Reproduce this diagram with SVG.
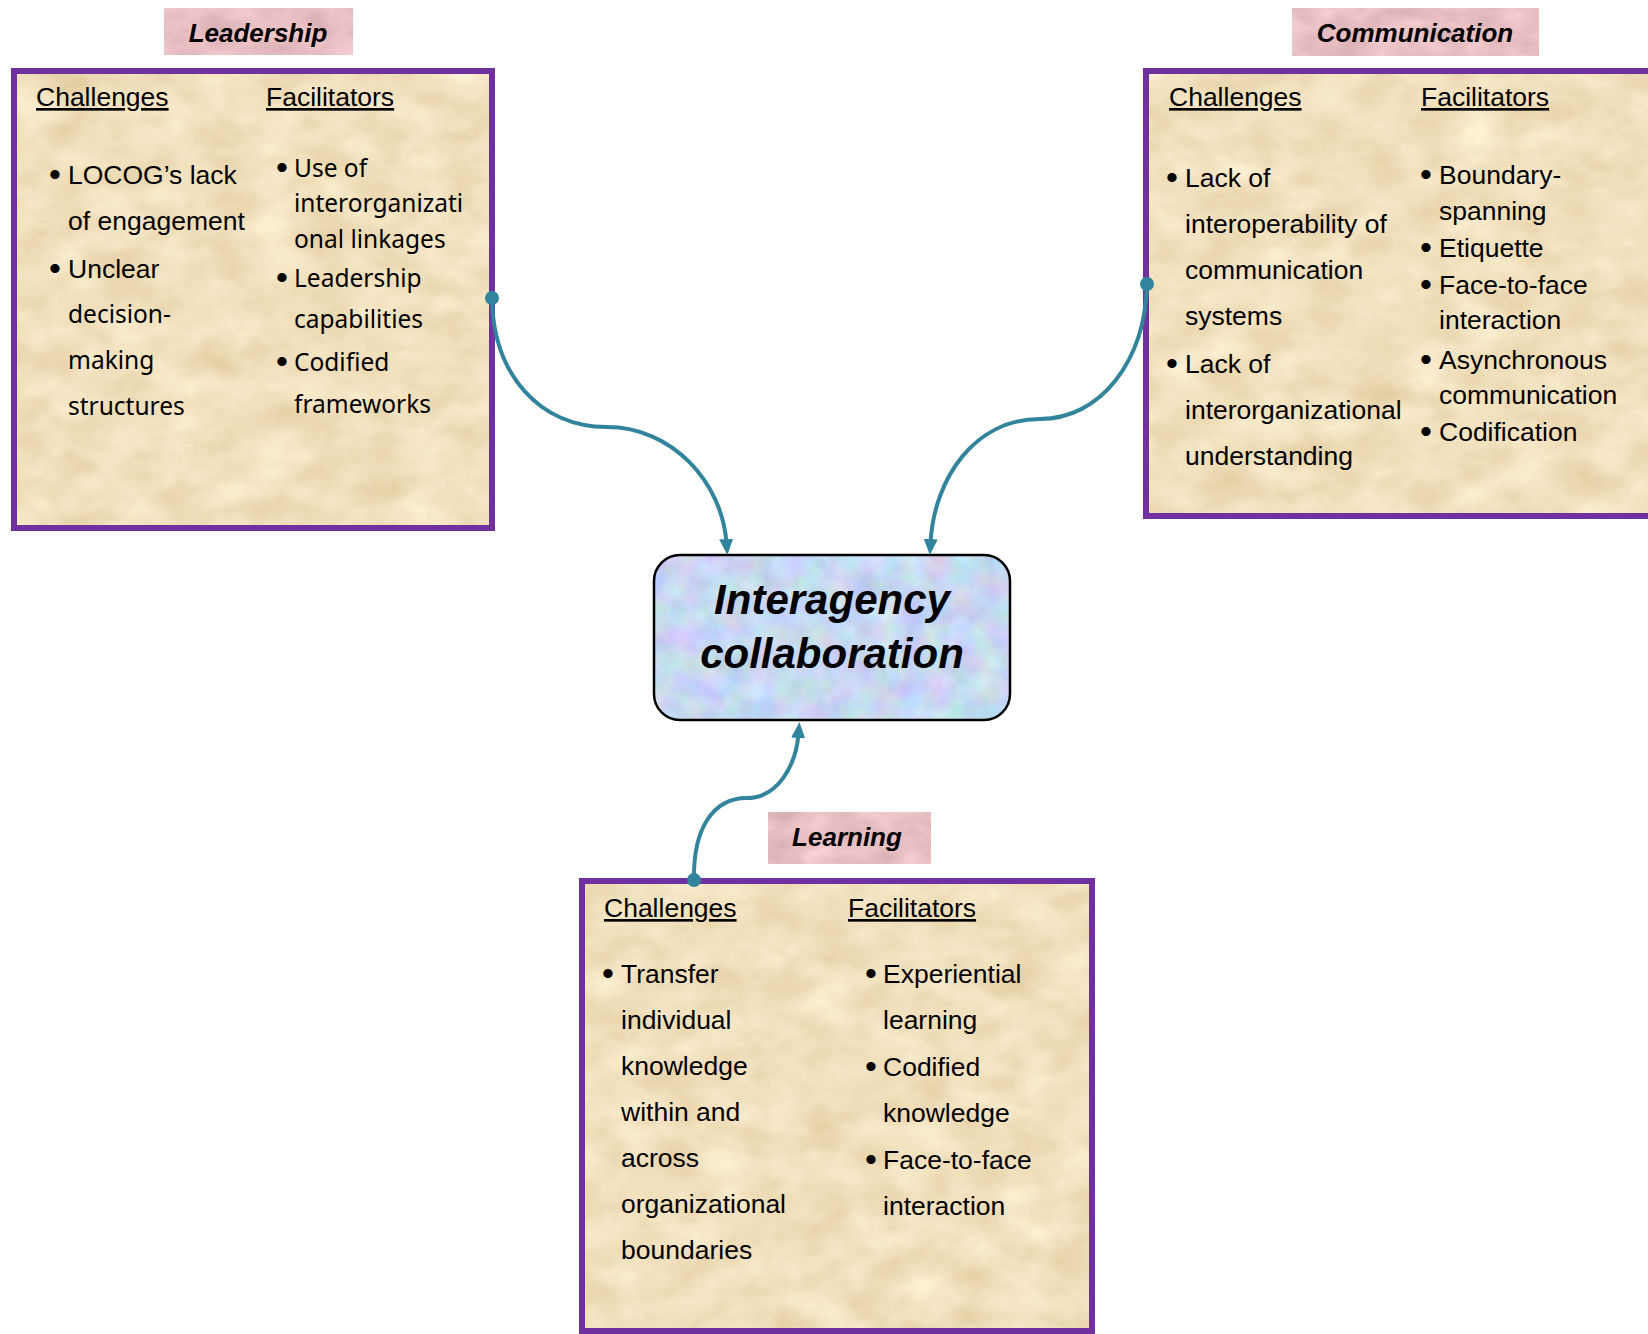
<svg xmlns="http://www.w3.org/2000/svg" width="1648" height="1334" viewBox="0 0 1648 1334">
<defs>
<style>
text { fill: #000; }
.h { font-family: "Liberation Sans", Arial, sans-serif; font-size: 26.5px; text-decoration: underline; }
.t { font-family: "Liberation Sans", Arial, sans-serif; font-size: 26.5px; }
.b { font-family: "Liberation Sans", Arial, sans-serif; font-size: 34px; }
.s { font-family: "Noto Sans", "Open Sans", sans-serif; font-size: 24.5px; }
.lab { font-family: "Liberation Sans", Arial, sans-serif; font-size: 26px; font-weight: bold; font-style: italic; text-anchor: middle; }
.title { font-family: "Liberation Sans", Arial, sans-serif; font-size: 42px; font-weight: bold; font-style: italic; text-anchor: middle; }
.paper { fill: #F1E0BD; filter: url(#tex); }
.pink { fill: #E8C0C3; filter: url(#tex2); }
.frame { fill: none; stroke: #7030A0; stroke-width: 6; }
.conn { fill: none; stroke: #31849B; stroke-width: 4; marker-end: url(#arrow); }
.dot { fill: #31849B; }
</style>
<filter id="tex" x="0" y="0" width="1" height="1" color-interpolation-filters="sRGB">
  <feTurbulence type="fractalNoise" baseFrequency="0.02 0.032" numOctaves="5" seed="7" result="n"/>
  <feColorMatrix in="n" type="matrix" values="0.22 0.22 0.22 0 0.17  0.3 0.3 0.3 0 0.05  0.42 0.42 0.42 0 -0.13  0 0 0 0 1" result="g"/>
  <feComposite in="SourceGraphic" in2="g" operator="arithmetic" k1="0" k2="1" k3="0.3" k4="-0.15" result="m"/>
  <feComposite in="m" in2="SourceGraphic" operator="in"/>
</filter>
<filter id="tex2" x="0" y="0" width="1" height="1" color-interpolation-filters="sRGB">
  <feTurbulence type="fractalNoise" baseFrequency="0.03 0.05" numOctaves="3" seed="11" result="n"/>
  <feColorMatrix in="n" type="matrix" values="0.33 0.33 0.33 0 0  0.33 0.33 0.33 0 0  0.33 0.33 0.33 0 0  0 0 0 0 1" result="g"/>
  <feComposite in="SourceGraphic" in2="g" operator="arithmetic" k1="0" k2="1" k3="0.3" k4="-0.15" result="m"/>
  <feComposite in="m" in2="SourceGraphic" operator="in"/>
</filter>
<filter id="tex3" x="0" y="0" width="1" height="1" color-interpolation-filters="sRGB">
  <feTurbulence type="fractalNoise" baseFrequency="0.04" numOctaves="3" seed="4" result="n"/>
  <feColorMatrix in="n" type="matrix" values="1 0 0 0 0  0 1 0 0 0  0 0 1 0 0  0 0 0 0 1" result="g"/>
  <feComposite in="SourceGraphic" in2="g" operator="arithmetic" k1="0" k2="1" k3="0.22" k4="-0.11" result="m"/>
  <feComposite in="m" in2="SourceGraphic" operator="in"/>
</filter>
<marker id="arrow" viewBox="0 0 16 16" refX="4" refY="8" markerWidth="16" markerHeight="16" markerUnits="userSpaceOnUse" orient="auto">
  <path d="M0,1 L16,8 L0,15 Z" fill="#31849B"/>
</marker>
</defs>

<rect width="1648" height="1334" fill="#FFFFFF"/>

<g id="leadership">
  <rect class="pink" x="164" y="8" width="189" height="47"/>
  <text class="lab" x="258" y="42">Leadership</text>
  <rect class="paper" x="14" y="71" width="478" height="457"/>
  <rect class="frame" x="14" y="71" width="478" height="457"/>
  <text class="h" x="36" y="106">Challenges</text>
  <text class="h" x="266" y="106">Facilitators</text>
  <text class="b" x="49" y="186">•</text>
  <text class="t" x="68" y="184">LOCOG’s lack</text>
  <text class="t" x="68" y="230">of engagement</text>
  <text class="b" x="49" y="280">•</text>
  <text class="t" x="68" y="278">Unclear</text>
  <text class="s" x="68" y="323">decision-</text>
  <text class="s" x="68" y="369">making</text>
  <text class="s" x="68" y="415">structures</text>
  <text class="b" x="276" y="179">•</text>
  <text class="s" x="294" y="177">Use of</text>
  <text class="s" x="294" y="212">interorganizati</text>
  <text class="s" x="294" y="248">onal linkages</text>
  <text class="b" x="276" y="289">•</text>
  <text class="s" x="294" y="287">Leadership</text>
  <text class="s" x="294" y="328">capabilities</text>
  <text class="b" x="276" y="373">•</text>
  <text class="s" x="294" y="371">Codified</text>
  <text class="s" x="294" y="413">frameworks</text>
</g>

<g id="communication">
  <rect class="pink" x="1292" y="8" width="247" height="48"/>
  <text class="lab" x="1415" y="42">Communication</text>
  <rect class="paper" x="1146" y="71" width="520" height="445"/>
  <rect class="frame" x="1146" y="71" width="520" height="445"/>
  <text class="h" x="1169" y="106">Challenges</text>
  <text class="h" x="1421" y="106">Facilitators</text>
  <text class="b" x="1166" y="189">•</text>
  <text class="t" x="1185" y="187">Lack of</text>
  <text class="t" x="1185" y="233">interoperability of</text>
  <text class="t" x="1185" y="279">communication</text>
  <text class="t" x="1185" y="325">systems</text>
  <text class="b" x="1166" y="375">•</text>
  <text class="t" x="1185" y="373">Lack of</text>
  <text class="t" x="1185" y="419">interorganizational</text>
  <text class="t" x="1185" y="465">understanding</text>
  <text class="b" x="1420" y="186">•</text>
  <text class="t" x="1439" y="184">Boundary-</text>
  <text class="t" x="1439" y="220">spanning</text>
  <text class="b" x="1420" y="259">•</text>
  <text class="t" x="1439" y="257">Etiquette</text>
  <text class="b" x="1420" y="296">•</text>
  <text class="t" x="1439" y="294">Face-to-face</text>
  <text class="t" x="1439" y="329">interaction</text>
  <text class="b" x="1420" y="371">•</text>
  <text class="t" x="1439" y="369">Asynchronous</text>
  <text class="t" x="1439" y="404">communication</text>
  <text class="b" x="1420" y="443">•</text>
  <text class="t" x="1439" y="441">Codification</text>
</g>

<g id="interagency-collaboration">
  <rect x="654" y="555" width="356" height="165" rx="26" ry="26" fill="#C7D8F2" filter="url(#tex3)"/>
  <rect x="654" y="555" width="356" height="165" rx="26" ry="26" fill="none" stroke="#000" stroke-width="2.5"/>
  <text class="title" x="832" y="614">Interagency</text>
  <text class="title" x="832" y="668">collaboration</text>
</g>

<g id="learning">
  <rect class="pink" x="768" y="812" width="163" height="52"/>
  <text class="lab" x="847" y="846">Learning</text>
  <rect class="paper" x="582" y="881" width="510" height="450"/>
  <rect class="frame" x="582" y="881" width="510" height="450"/>
  <text class="h" x="604" y="917">Challenges</text>
  <text class="h" x="848" y="917">Facilitators</text>
  <text class="b" x="602" y="985">•</text>
  <text class="t" x="621" y="983">Transfer</text>
  <text class="t" x="621" y="1029">individual</text>
  <text class="t" x="621" y="1075">knowledge</text>
  <text class="t" x="621" y="1121">within and</text>
  <text class="t" x="621" y="1167">across</text>
  <text class="t" x="621" y="1213">organizational</text>
  <text class="t" x="621" y="1259">boundaries</text>
  <text class="b" x="865" y="985">•</text>
  <text class="t" x="883" y="983">Experiential</text>
  <text class="t" x="883" y="1029">learning</text>
  <text class="b" x="865" y="1078">•</text>
  <text class="t" x="883" y="1076">Codified</text>
  <text class="t" x="883" y="1122">knowledge</text>
  <text class="b" x="865" y="1171">•</text>
  <text class="t" x="883" y="1169">Face-to-face</text>
  <text class="t" x="883" y="1215">interaction</text>
</g>

<g id="connectors">
  <path class="conn" d="M492,298 C493,375 540,427 607,427 C672,427 722,482 726.5,543"/>
  <circle class="dot" cx="492" cy="298" r="7"/>
  <path class="conn" d="M1147,284 C1145,362 1100,419 1040,419 C975,419 934,478 930.5,543"/>
  <circle class="dot" cx="1147" cy="284" r="7"/>
  <path class="conn" d="M694,880 C693,830 712,798 747,798 C778,798 796,765 798.5,734"/>
  <circle class="dot" cx="694" cy="880" r="7"/>
</g>
</svg>
